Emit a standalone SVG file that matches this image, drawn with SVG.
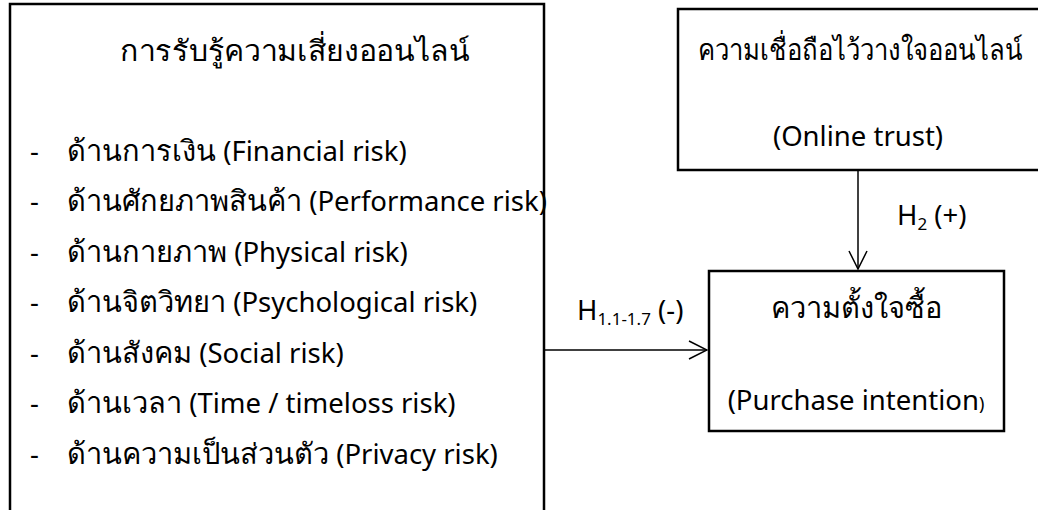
<svg xmlns="http://www.w3.org/2000/svg" width="1038" height="510" viewBox="0 0 1038 510">
<defs>
<style>
.box{fill:#fff;stroke:#000;stroke-width:2.5}
.t{font-family:"Noto Sans","Liberation Sans",sans-serif;font-size:27.5px;fill:#000}
.th{font-size:29px;font-weight:300}
.c{text-anchor:middle}
.sub{font-size:17px}
.ln{stroke:#000;stroke-width:1.5;fill:none}
</style>
<marker id="arr" viewBox="0 0 20 20" refX="19" refY="10" markerWidth="20" markerHeight="20" markerUnits="userSpaceOnUse" orient="auto">
<path d="M1,1 L19,10 L1,19" fill="none" stroke="#000" stroke-width="1.5"/>
</marker>
</defs>
<rect width="1038" height="510" fill="#fff"/>
<g id="risk">
<rect class="box" x="10" y="4" width="534" height="530"/>
<text class="t th" x="120" y="61" textLength="350" lengthAdjust="spacingAndGlyphs">การรับรู้ความเสี่ยงออนไลน์</text>
<text class="t" x="30" y="161">-</text><text class="t" x="67" y="161"><tspan class="th">ด้านการเงิน</tspan> (Financial risk)</text>
<text class="t" x="30" y="211">-</text><text class="t" x="67" y="211"><tspan class="th">ด้านศักยภาพสินค้า</tspan> (Performance risk)</text>
<text class="t" x="30" y="262">-</text><text class="t" x="67" y="262"><tspan class="th">ด้านกายภาพ</tspan> (Physical risk)</text>
<text class="t" x="30" y="312">-</text><text class="t" x="67" y="312"><tspan class="th">ด้านจิตวิทยา</tspan> (Psychological risk)</text>
<text class="t" x="30" y="363">-</text><text class="t" x="67" y="363"><tspan class="th">ด้านสังคม</tspan> (Social risk)</text>
<text class="t" x="30" y="413">-</text><text class="t" x="67" y="413"><tspan class="th">ด้านเวลา</tspan> (Time / timeloss risk)</text>
<text class="t" x="30" y="464">-</text><text class="t" x="67" y="464"><tspan class="th">ด้านความเป็นส่วนตัว</tspan> (Privacy risk)</text>
</g>
<g id="trust">
<rect class="box" x="678" y="9" width="366" height="161"/>
<text class="t th" x="698" y="60" textLength="325" lengthAdjust="spacingAndGlyphs">ความเชื่อถือไว้วางใจออนไลน์</text>
<text class="t c" x="858" y="146">(Online trust)</text>
</g>
<g id="intention">
<rect class="box" x="709" y="271" width="295" height="160"/>
<text class="t c th" x="856" y="318">ความตั้งใจซื้อ</text>
<text class="t c" x="856" y="410">(Purchase intention<tspan font-size="18px">)</tspan></text>
</g>
<g id="connectors">
<line class="ln" x1="858" y1="171" x2="858" y2="269" marker-end="url(#arr)"/>
<line class="ln" x1="545" y1="350" x2="707" y2="350" marker-end="url(#arr)"/>
<text class="t" x="897" y="225">H<tspan class="sub" dy="5">2</tspan><tspan dy="-5"> (+)</tspan></text>
<text class="t" x="577" y="320">H<tspan class="sub" dy="5">1.1-1.7</tspan><tspan dy="-5"> (-)</tspan></text>
</g>
</svg>
